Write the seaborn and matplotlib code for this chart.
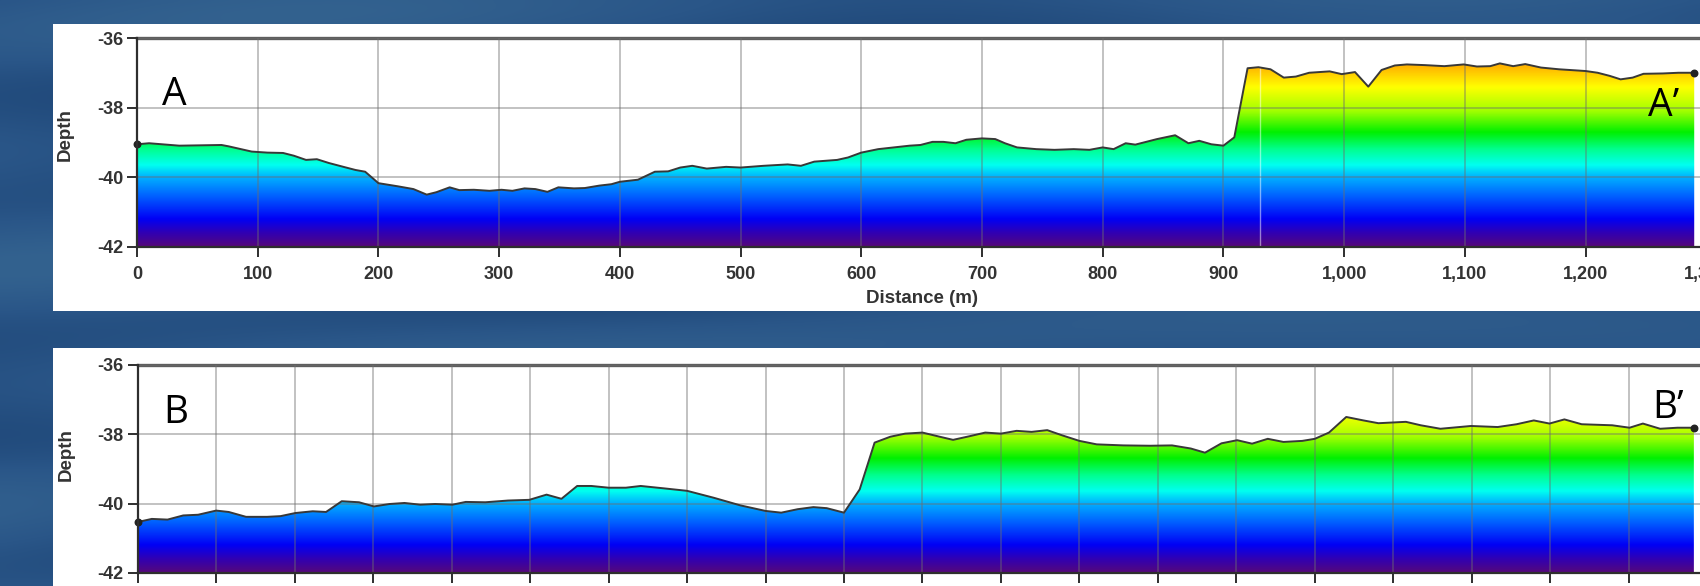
import numpy as np
import pandas as pd
import matplotlib
matplotlib.use("Agg")
import matplotlib.pyplot as plt
import seaborn as sns
from matplotlib.colors import LinearSegmentedColormap
from matplotlib.patches import Rectangle

# ---- Profile A - A' (distance in m, depth in m) ----
a_dist = [0, 10, 35, 70, 76, 95, 108, 121, 130, 140, 149, 159, 171, 181, 189,
          200, 216, 229, 240, 248, 259, 267, 279, 292, 302, 311, 321, 330, 340,
          349, 362, 371, 383, 393, 400, 415, 429, 440, 450, 460, 472, 488, 500,
          519, 539, 550, 561, 580, 589, 600, 614, 627, 640, 649, 659, 668, 678,
          687, 700, 711, 719, 729, 745, 760, 776, 789, 800, 809, 819, 827, 845,
          860, 871, 880, 890, 900, 909, 920, 929, 939, 950, 960, 971, 988, 998,
          1009, 1020, 1031, 1042, 1052, 1067, 1083, 1099, 1110, 1121, 1129, 1140,
          1150, 1163, 1178, 1200, 1210, 1220, 1229, 1239, 1248, 1264, 1277, 1290]
a_depth = [-39.05, -39.02, -39.09, -39.07, -39.11, -39.26, -39.29, -39.30, -39.38,
           -39.50, -39.48, -39.59, -39.70, -39.79, -39.84, -40.17, -40.26, -40.34,
           -40.50, -40.43, -40.29, -40.37, -40.36, -40.39, -40.36, -40.39, -40.32,
           -40.34, -40.42, -40.29, -40.32, -40.31, -40.24, -40.20, -40.13, -40.07,
           -39.84, -39.83, -39.72, -39.67, -39.75, -39.70, -39.72, -39.67, -39.63,
           -39.67, -39.55, -39.50, -39.43, -39.29, -39.19, -39.14, -39.09, -39.07,
           -38.98, -38.98, -39.02, -38.92, -38.88, -38.90, -39.02, -39.14, -39.19,
           -39.21, -39.19, -39.21, -39.14, -39.19, -39.02, -39.06, -38.90, -38.79,
           -39.02, -38.95, -39.05, -39.09, -38.85, -36.86, -36.83, -36.89, -37.13,
           -37.10, -36.99, -36.95, -37.03, -36.97, -37.39, -36.91, -36.78, -36.75,
           -36.77, -36.80, -36.75, -36.81, -36.80, -36.72, -36.80, -36.74, -36.84,
           -36.89, -36.94, -36.99, -37.08, -37.18, -37.13, -37.02, -37.01, -36.99,
           -36.99]
# survey-line seam visible across the A section
a_seam_dist = 930

# ---- Profile B - B' ----
b_dist = [0, 18, 38, 58, 77, 100, 116, 138, 165, 182, 201, 223, 240, 260, 282,
          301, 321, 340, 360, 379, 401, 418, 443, 472, 499, 521, 540, 560, 578,
          600, 622, 641, 671, 700, 734, 768, 800, 820, 841, 861, 878, 900, 920,
          939, 959, 978, 1000, 1022, 1039, 1061, 1080, 1100, 1120, 1139, 1159,
          1178, 1200, 1222, 1256, 1290, 1318, 1342, 1360, 1381, 1401, 1420, 1440,
          1460, 1484, 1500, 1518, 1540, 1562, 1581, 1616, 1635, 1660, 1699, 1733,
          1757, 1779, 1799, 1818, 1840, 1879, 1901, 1918, 1940, 1962, 1983]
b_depth = [-40.53, -40.44, -40.46, -40.34, -40.32, -40.20, -40.24, -40.38, -40.38,
           -40.36, -40.27, -40.22, -40.24, -39.93, -39.96, -40.08, -40.01, -39.98,
           -40.03, -40.01, -40.03, -39.95, -39.96, -39.91, -39.89, -39.74, -39.86,
           -39.49, -39.49, -39.54, -39.54, -39.49, -39.56, -39.63, -39.83, -40.05,
           -40.21, -40.26, -40.16, -40.10, -40.13, -40.26, -39.59, -38.24, -38.07,
           -37.98, -37.95, -38.07, -38.16, -38.05, -37.95, -37.98, -37.90, -37.93,
           -37.88, -38.03, -38.19, -38.29, -38.32, -38.33, -38.32, -38.41, -38.53,
           -38.26, -38.17, -38.27, -38.13, -38.22, -38.19, -38.13, -37.95, -37.50,
           -37.60, -37.68, -37.64, -37.74, -37.84, -37.76, -37.79, -37.71, -37.60,
           -37.69, -37.57, -37.71, -37.74, -37.81, -37.69, -37.84, -37.81, -37.81]

depth_ticks = [-42, -40, -38, -36]
a_xticks = list(range(0, 1400, 100))
a_xticklabels = [f"{v:,}" for v in a_xticks]
b_xticks = list(range(0, 2100, 100))

DEPTH_MIN, DEPTH_MAX = -42, -36

# Depth colour ramp (deep purple -> blue -> cyan -> green -> yellow -> orange)
ramp = [(0.000, "#55087a"), (0.067, "#3000b4"), (0.133, "#0000f5"),
        (0.233, "#0058ff"), (0.333, "#00b0ff"), (0.392, "#00fff0"),
        (0.467, "#00ff90"), (0.550, "#00f000"), (0.650, "#a0ff00"),
        (0.767, "#ffff00"), (0.850, "#ffc000"), (0.917, "#ff9000"),
        (1.000, "#ff6000")]
depth_cmap = LinearSegmentedColormap.from_list("depth", ramp)

sns.set_theme(style="white")
plt.rcParams["font.family"] = ["Liberation Sans", "DejaVu Sans"]
AXIS_FONT = ["Liberation Sans Narrow", "Liberation Sans", "DejaVu Sans"]

fig = plt.figure(figsize=(17, 5.86), dpi=100)
fig.patch.set_facecolor("#27518a")

# soft ocean-blue backdrop
bg = fig.add_axes([0, 0, 1, 1], zorder=-5)
yy, xx = np.mgrid[0:1:200j, 0:1:400j]
shade = 0.5 + 0.25 * np.sin(xx * 9 + yy * 3) * np.cos(yy * 14) + 0.15 * np.sin(yy * 31 + xx * 4)
bg_cmap = LinearSegmentedColormap.from_list("sea", ["#1d4576", "#2a5688", "#33628f"])
bg.imshow(shade, cmap=bg_cmap, aspect="auto", extent=[0, 1, 0, 1], interpolation="bicubic")
bg.set_axis_off()

# white cards behind the two panels
for (x0, y0, w, h) in [(53 / 1700, 0.4693, 1.0, 0.4898), (53 / 1700, 0.0, 1.0, 0.4055)]:
    fig.add_artist(Rectangle((x0, y0), w, h, transform=fig.transFigure,
                             facecolor="white", edgecolor="none", zorder=-4))

ax_a = fig.add_axes([137 / 1700, 0.579, 1690 / 1700, 0.3555])
ax_b = fig.add_axes([137.7 / 1700, 0.0222, 1648 / 1700, 0.355])

grad = np.linspace(DEPTH_MIN, DEPTH_MAX, 600)[:, None]


def draw_profile(ax, dist, depth, xmax, xticks, seam=None):
    df = pd.DataFrame({"Distance": dist, "Depth": depth})
    area = ax.fill_between(df["Distance"], df["Depth"], DEPTH_MIN,
                           facecolor="none", edgecolor="none")
    im = ax.imshow(grad, cmap=depth_cmap, origin="lower", aspect="auto",
                   extent=[df["Distance"].min(), df["Distance"].max(), DEPTH_MIN, DEPTH_MAX],
                   vmin=DEPTH_MIN, vmax=DEPTH_MAX, zorder=1, interpolation="bilinear")
    im.set_clip_path(area.get_paths()[0], transform=ax.transData)
    if seam is not None:
        sl = ax.axvline(seam, color="white", lw=1.0, alpha=0.5, zorder=2)
        sl.set_clip_path(area.get_paths()[0], transform=ax.transData)
    ax.set_xlim(0, xmax)
    ax.set_ylim(DEPTH_MIN, DEPTH_MAX)
    sns.lineplot(data=df, x="Distance", y="Depth", ax=ax, color="#383838",
                 lw=1.4, zorder=4, estimator=None, sort=False)
    ends = df.iloc[[0, -1]]
    ax.scatter(ends["Distance"], ends["Depth"], s=22, color="#222222", zorder=5,
               clip_on=False)
    ax.set_facecolor("white")
    ax.set_xticks(xticks)
    ax.set_yticks(depth_ticks)
    ax.set_yticklabels([str(v) for v in depth_ticks], fontweight="bold", fontsize=13,
                       color="#333333", family=AXIS_FONT)
    ax.grid(True, color="#6e6e6e", alpha=0.45, lw=1.3)
    ax.set_axisbelow(False)
    for side in ["left", "bottom"]:
        ax.spines[side].set_color("#2e2e2e")
        ax.spines[side].set_linewidth(1.6)
        ax.spines[side].set_zorder(6)
    ax.spines["top"].set_color("#5e5e5e")
    ax.spines["top"].set_linewidth(2.4)
    ax.spines["right"].set_visible(False)
    ax.tick_params(axis="both", which="both", direction="out", length=7, width=1.4,
                   color="#2e2e2e", left=True, bottom=True, top=False, right=False)
    ax.tick_params(axis="y", pad=3)
    ax.tick_params(axis="x", pad=7)
    ax.set_ylabel("Depth", fontweight="bold", fontsize=13.5, color="#333333",
                  family=AXIS_FONT)


draw_profile(ax_a, a_dist, a_depth, 1400, a_xticks, seam=a_seam_dist)
ax_a.set_xticklabels(a_xticklabels, fontweight="bold", fontsize=13, color="#333333",
                     family=AXIS_FONT)
ax_a.set_xlabel("Distance (m)", fontweight="bold", fontsize=13.5, color="#333333",
                family=AXIS_FONT)
ax_a.xaxis.set_label_coords(0.4643, -0.21)
ax_a.yaxis.set_label_coords(-0.0375, 0.54)

draw_profile(ax_b, b_dist, b_depth, 2100, b_xticks)
ax_b.tick_params(axis="x", labelbottom=False)
ax_b.set_xlabel("")
ax_b.yaxis.set_label_coords(-0.0384, 0.57)

# section end labels
lab = dict(fontsize=28, color="black", family=["Open Sans", "DejaVu Sans"], zorder=7,
           va="baseline", ha="left")
ax_a.text(21, -37.92, "A", **lab)
ax_a.text(1252, -38.24, "A\u2019", **lab)
ax_b.text(32, -37.67, "B", **lab)
ax_b.text(1930, -37.53, "B\u2019", **lab)

fig.savefig("out.png", dpi=100, facecolor=fig.get_facecolor())
